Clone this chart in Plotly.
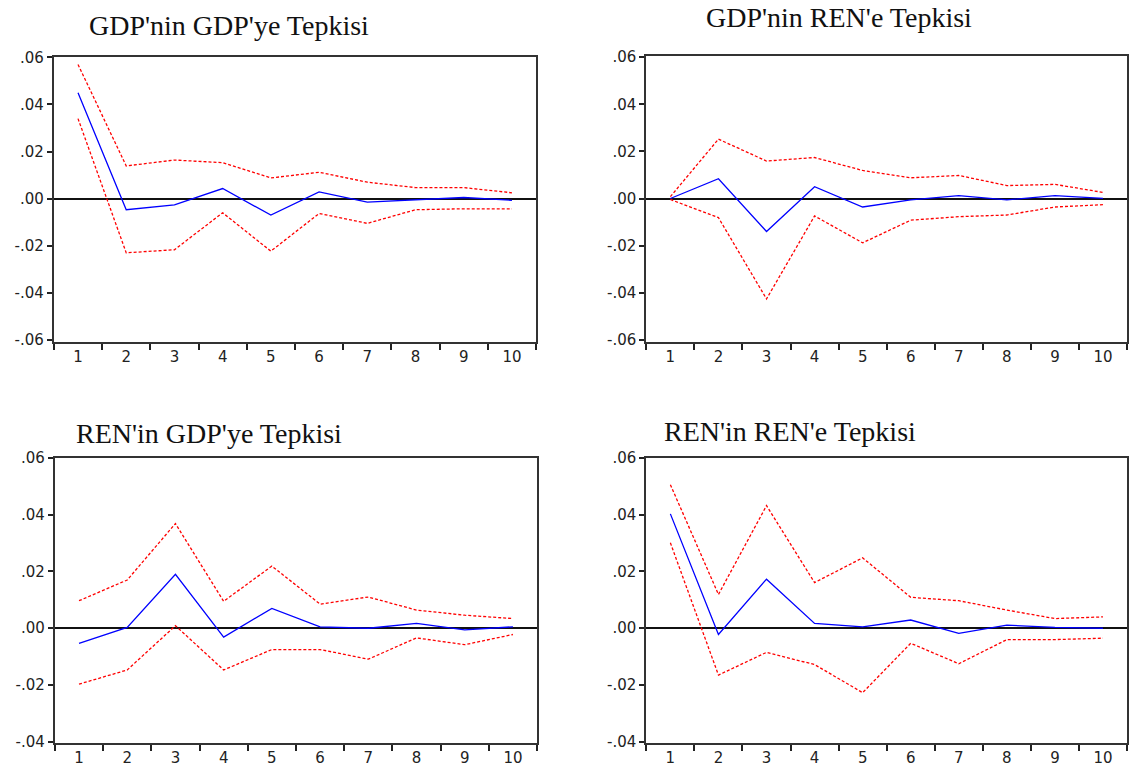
import plotly.graph_objects as go

periods = [1, 2, 3, 4, 5, 6, 7, 8, 9, 10]

titles = ["GDP'nin GDP'ye Tepkisi", "GDP'nin REN'e Tepkisi",
          "REN'in GDP'ye Tepkisi", "REN'in REN'e Tepkisi"]

# Panel 1: GDP'nin GDP'ye Tepkisi
gdp_gdp = [0.0450, -0.0047, -0.0026, 0.0043, -0.0070, 0.0029, -0.0015, -0.0005, 0.0005, -0.0007]
gdp_gdp_up = [0.0570, 0.0139, 0.0164, 0.0153, 0.0088, 0.0112, 0.0070, 0.0047, 0.0047, 0.0025]
gdp_gdp_lo = [0.0340, -0.0230, -0.0217, -0.0060, -0.0223, -0.0063, -0.0105, -0.0047, -0.0043, -0.0043]

# Panel 2: GDP'nin REN'e Tepkisi
gdp_ren = [0.0000, 0.0084, -0.0140, 0.0050, -0.0036, -0.0006, 0.0012, -0.0006, 0.0012, 0.0001]
gdp_ren_up = [0.0008, 0.0252, 0.0159, 0.0174, 0.0119, 0.0088, 0.0098, 0.0055, 0.0060, 0.0026]
gdp_ren_lo = [-0.0004, -0.0081, -0.0426, -0.0074, -0.0188, -0.0092, -0.0077, -0.0070, -0.0036, -0.0026]

# Panel 3: REN'in GDP'ye Tepkisi
ren_gdp = [-0.0053, 0.0003, 0.0190, -0.0031, 0.0070, 0.0005, 0.0000, 0.0017, -0.0006, 0.0005]
ren_gdp_up = [0.0097, 0.0170, 0.0369, 0.0095, 0.0219, 0.0085, 0.0110, 0.0064, 0.0046, 0.0034]
ren_gdp_lo = [-0.0197, -0.0147, 0.0009, -0.0147, -0.0075, -0.0075, -0.0109, -0.0034, -0.0058, -0.0022]

# Panel 4: REN'in REN'e Tepkisi
ren_ren = [0.0403, -0.0022, 0.0173, 0.0017, 0.0005, 0.0029, -0.0018, 0.0011, 0.0003, 0.0000]
ren_ren_up = [0.0506, 0.0119, 0.0432, 0.0161, 0.0248, 0.0109, 0.0097, 0.0064, 0.0034, 0.0040]
ren_ren_lo = [0.0301, -0.0165, -0.0085, -0.0128, -0.0227, -0.0053, -0.0125, -0.0040, -0.0040, -0.0035]

top_ticks = [-0.06, -0.04, -0.02, 0.0, 0.02, 0.04, 0.06]
top_tick_text = ["-.06", "-.04", "-.02", ".00", ".02", ".04", ".06"]
bot_ticks = [-0.04, -0.02, 0.0, 0.02, 0.04, 0.06]
bot_tick_text = ["-.04", "-.02", ".00", ".02", ".04", ".06"]

panels = [
    (gdp_gdp, gdp_gdp_up, gdp_gdp_lo),
    (gdp_ren, gdp_ren_up, gdp_ren_lo),
    (ren_gdp, ren_gdp_up, ren_gdp_lo),
    (ren_ren, ren_ren_up, ren_ren_lo),
]

W, H = 1129, 778
# pixel geometry of plot frames: (left, right, top, bottom)
frames = [(54, 537, 49, 340), (647.5, 1129, 48, 340),
          (55, 538, 459, 750), (647.5, 1129, 459, 750)]
yranges = [[-0.0607, 0.0602], [-0.0607, 0.0605], [-0.0403, 0.0600], [-0.0403, 0.0600]]
title_pos = [(229, 17), (840, 9), (209, 434), (791, 432)]

fig = go.Figure()
RED = "#ff0000"
BLUE = "#0000ff"
TICKFONT = dict(family="DejaVu Sans", size=15, color="#222")

for i, (resp, up, lo) in enumerate(panels):
    ax = "" if i == 0 else str(i + 1)
    xa, ya = "x" + ax, "y" + ax
    for series, color, dash in [(up, RED, "3px,2px"), (lo, RED, "3px,2px"), (resp, BLUE, "solid")]:
        fig.add_trace(go.Scatter(x=periods, y=series, mode="lines", xaxis=xa, yaxis=ya,
                                 line=dict(color=color, width=1.3, dash=dash),
                                 showlegend=False, hoverinfo="skip"))
    l, r, t, b = frames[i]
    ticks = top_ticks if i < 2 else bot_ticks
    ttext = top_tick_text if i < 2 else bot_tick_text
    fig.layout["xaxis" + ax] = dict(
        domain=[l / W, r / W], anchor=ya, range=[0.5, 10.5],
        tickvals=periods, ticktext=[str(p) for p in periods], ticks="",
        minor=dict(tickvals=[k + 0.5 for k in range(0, 11)], ticks="outside", ticklen=6,
                   tickcolor="#222", tickwidth=1.5, showgrid=False),
        showgrid=False, zeroline=False, showline=True, mirror=True,
        linecolor="#333", linewidth=2,
        tickfont=TICKFONT,
        fixedrange=True,
    )
    fig.layout["yaxis" + ax] = dict(
        domain=[1 - b / H, 1 - t / H], anchor=xa, range=yranges[i],
        tickvals=ticks, ticktext=ttext, ticks="outside", ticklen=5,
        tickcolor="#222", tickwidth=1.5,
        showgrid=False, zeroline=True, zerolinecolor="#111", zerolinewidth=1.6,
        showline=True, mirror=True, linecolor="#333", linewidth=2,
        tickfont=TICKFONT,
        fixedrange=True,
    )
    tx, ty = title_pos[i]
    fig.add_annotation(text=titles[i], x=tx / W, y=1 - ty / H, xref="paper", yref="paper",
                       xanchor="center", yanchor="middle", showarrow=False,
                       font=dict(family="Liberation Serif", size=28, color="#111"))

fig.update_layout(width=W, height=H, margin=dict(l=0, r=0, t=0, b=0),
                  paper_bgcolor="white", plot_bgcolor="white")

fig.write_html("out.html")
